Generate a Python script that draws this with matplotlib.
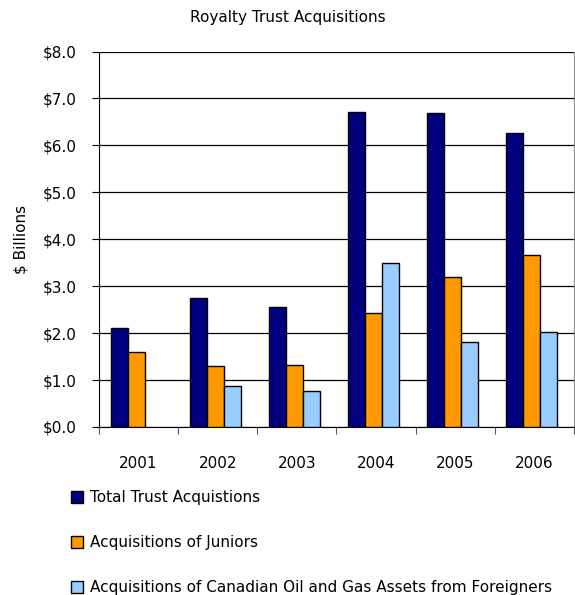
import numpy as np
import matplotlib.pyplot as plt
from matplotlib.ticker import FuncFormatter

# Royalty trust acquisitions by year, $ billions
years = ['2001', '2002', '2003', '2004', '2005', '2006']
total_trust = [2.10, 2.74, 2.56, 6.71, 6.68, 6.27]
juniors = [1.60, 1.30, 1.32, 2.42, 3.19, 3.66]
foreign_assets = [0.0, 0.87, 0.77, 3.49, 1.82, 2.03]

series_names = ['Total Trust Acquistions',
                'Acquisitions of Juniors',
                'Acquisitions of Canadian Oil and Gas Assets from Foreigners']
colors = ['#000080', '#FF9900', '#99CCFF']

plt.rcParams['font.family'] = ['DejaVu Sans']

fig = plt.figure(figsize=(5.75, 5.95), dpi=100)
ax = fig.add_axes([0.172, 0.2824, 0.826, 0.631])

x = np.arange(len(years))
w = 0.215
handles = []
for i, (vals, c) in enumerate(zip([total_trust, juniors, foreign_assets], colors)):
    vals = np.array(vals)
    xs = x - w + i * w - 0.03
    mask = vals > 0
    b = ax.bar(xs[mask], vals[mask], width=w, color=c, edgecolor='black',
               linewidth=1.0, zorder=3, label=series_names[i])
    handles.append(b)

ax.set_xlim(-0.5, len(years) - 0.5)
ax.set_ylim(0, 8)
ax.set_yticks(np.arange(0, 9, 1))
ax.yaxis.set_major_formatter(FuncFormatter(lambda v, p: f'${v:.1f}'))
ax.grid(axis='y', color='black', linewidth=0.9, zorder=0)

# category separators as ticks on the x axis
ax.set_xticks(np.arange(-0.5, len(years), 1), minor=False)
ax.set_xticklabels([])
ax.set_xticks(x, minor=True)
ax.set_xticklabels(years, minor=True, fontsize=11)
ax.tick_params(axis='x', which='minor', length=0, pad=21)
ax.tick_params(axis='x', which='major', length=5, direction='out', color='#555555')
ax.tick_params(axis='y', length=5, direction='out', labelsize=11, pad=11)

ax.spines['top'].set_visible(False)
ax.spines['right'].set_color('#888888')
ax.spines['left'].set_color('black')
ax.spines['bottom'].set_color('black')

ax.set_ylabel('$ Billions', fontsize=11, labelpad=10)
fig.text(0.5, 0.97, 'Royalty Trust Acquisitions', ha='center', va='center', fontsize=11)

fig.legend(handles=handles, loc='upper left', bbox_to_anchor=(0.112, 0.186), frameon=False,
           fontsize=11, handlelength=0.85, handleheight=0.85, handletextpad=0.45,
           labelspacing=1.95, borderaxespad=0)

fig.savefig('out.png', dpi=100)
